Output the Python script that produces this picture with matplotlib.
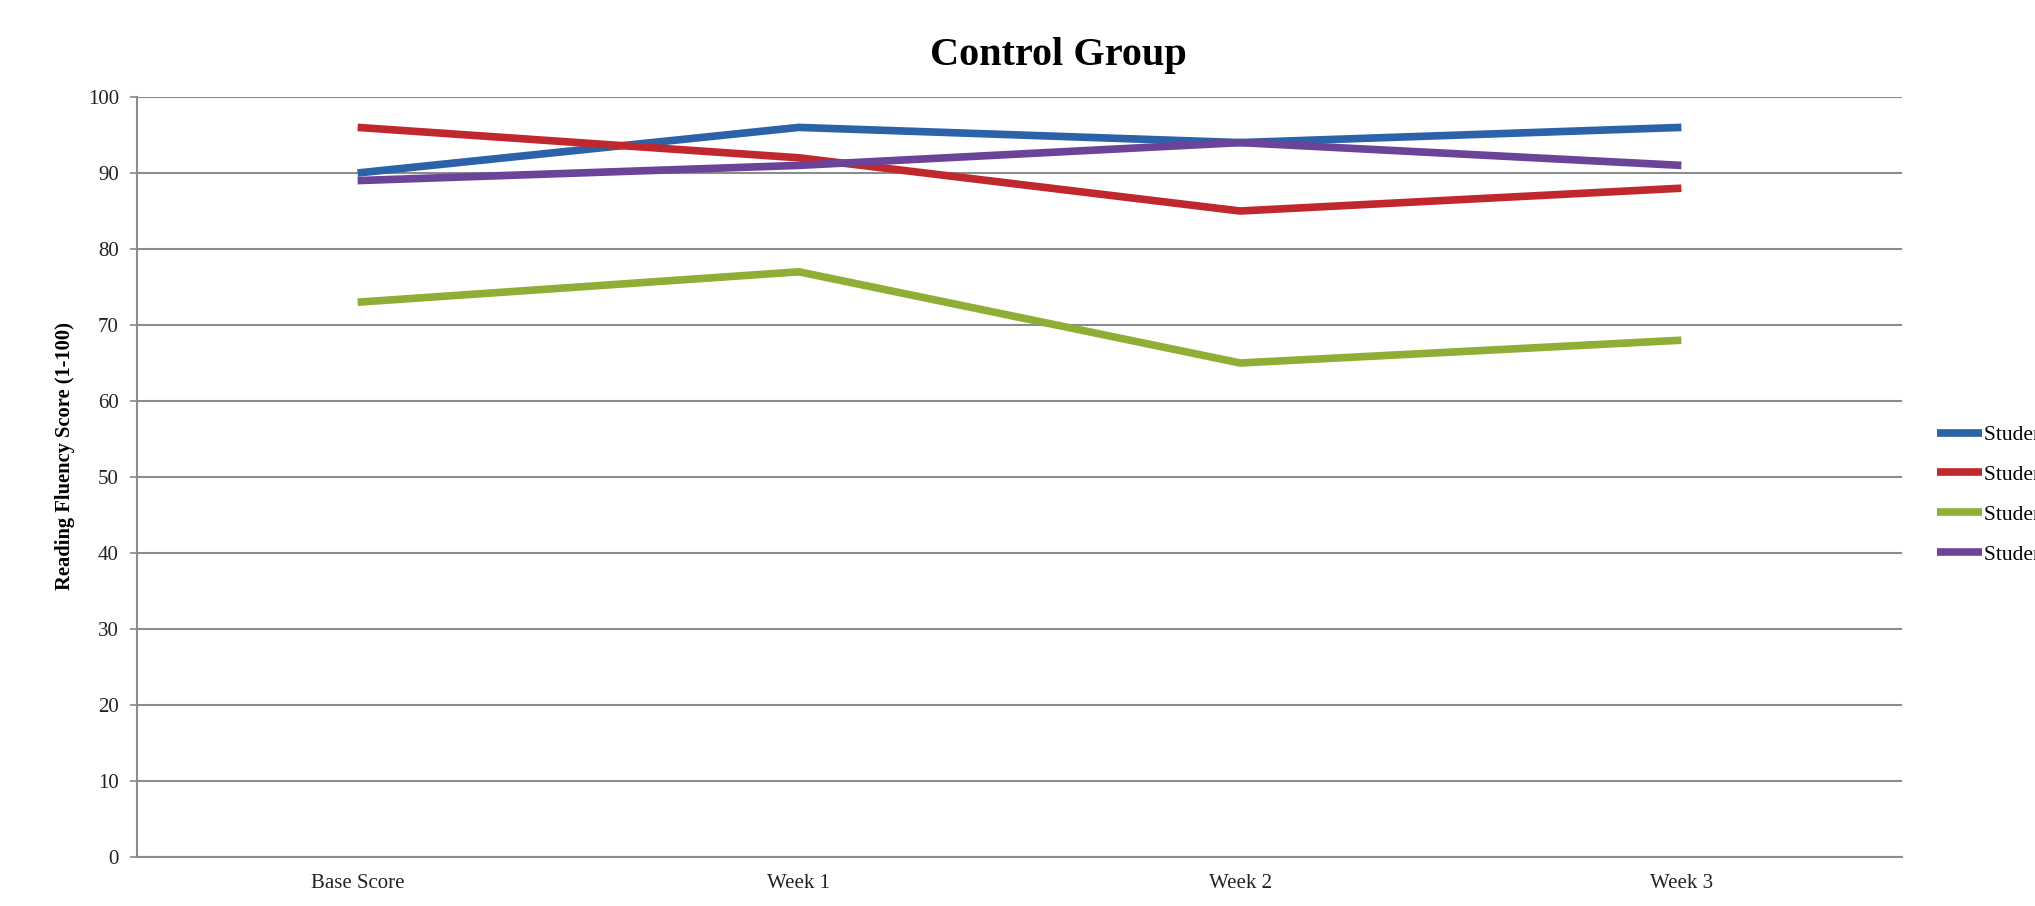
import matplotlib.pyplot as plt
import numpy as np

weeks = ['Base Score', 'Week 1', 'Week 2', 'Week 3']
student1 = [90, 96, 94, 96]
student2 = [96, 92, 85, 88]
student3 = [73, 77, 65, 68]
student4 = [89, 91, 94, 91]
names = ['Student 1', 'Student 2', 'Student 3', 'Student 4']
cols = ['#2B62A8', '#C0282D', '#8FAE36', '#6B4399']

plt.rcParams['font.family'] = ['Liberation Serif', 'DejaVu Serif']

fig = plt.figure(figsize=(20.35, 9.06), dpi=100)
ax = fig.add_axes([137/2035, 49/906, 1765/2035, 760/906])

x = np.arange(len(weeks))
for vals, name, c in zip([student1, student2, student3, student4], names, cols):
    ax.plot(x, vals, lw=5.5, color=c, label=name, solid_capstyle='butt')

ax.set_xlim(-0.5, 3.5)
ax.set_ylim(0, 100)
ax.set_yticks(range(0, 101, 10))
ax.set_xticks(x)
ax.set_xticklabels(weeks)
ax.tick_params(axis='both', labelsize=15, colors='#222222', length=0, pad=12)
ax.tick_params(axis='y', length=5, width=1.2, color='#888888', pad=8)
ax.yaxis.grid(True, color='#8c8c8c', lw=1.5)
ax.set_axisbelow(True)
for s in ['top', 'right']:
    ax.spines[s].set_visible(False)
ax.spines['left'].set_color('#8c8c8c')
ax.spines['bottom'].set_color('#8c8c8c')
ax.spines['left'].set_linewidth(1.5)
ax.spines['bottom'].set_linewidth(1.5)

ax.set_ylabel('Reading Fluency Score (1-100)', fontsize=14.8, fontweight='bold')
ax.yaxis.set_label_coords(-0.035, 0.527)
fig.text(1058/2035, 1 - 55/906, 'Control Group', fontsize=29, fontweight='bold',
         ha='center', va='center')

fig.legend(loc='upper left', bbox_to_anchor=(1937/2035, 1 - 425/906), frameon=False,
           fontsize=15.5, handlelength=2.1, handletextpad=0.1, labelspacing=0.92,
           borderpad=0, borderaxespad=0)

fig.savefig('out.png', dpi=100)
